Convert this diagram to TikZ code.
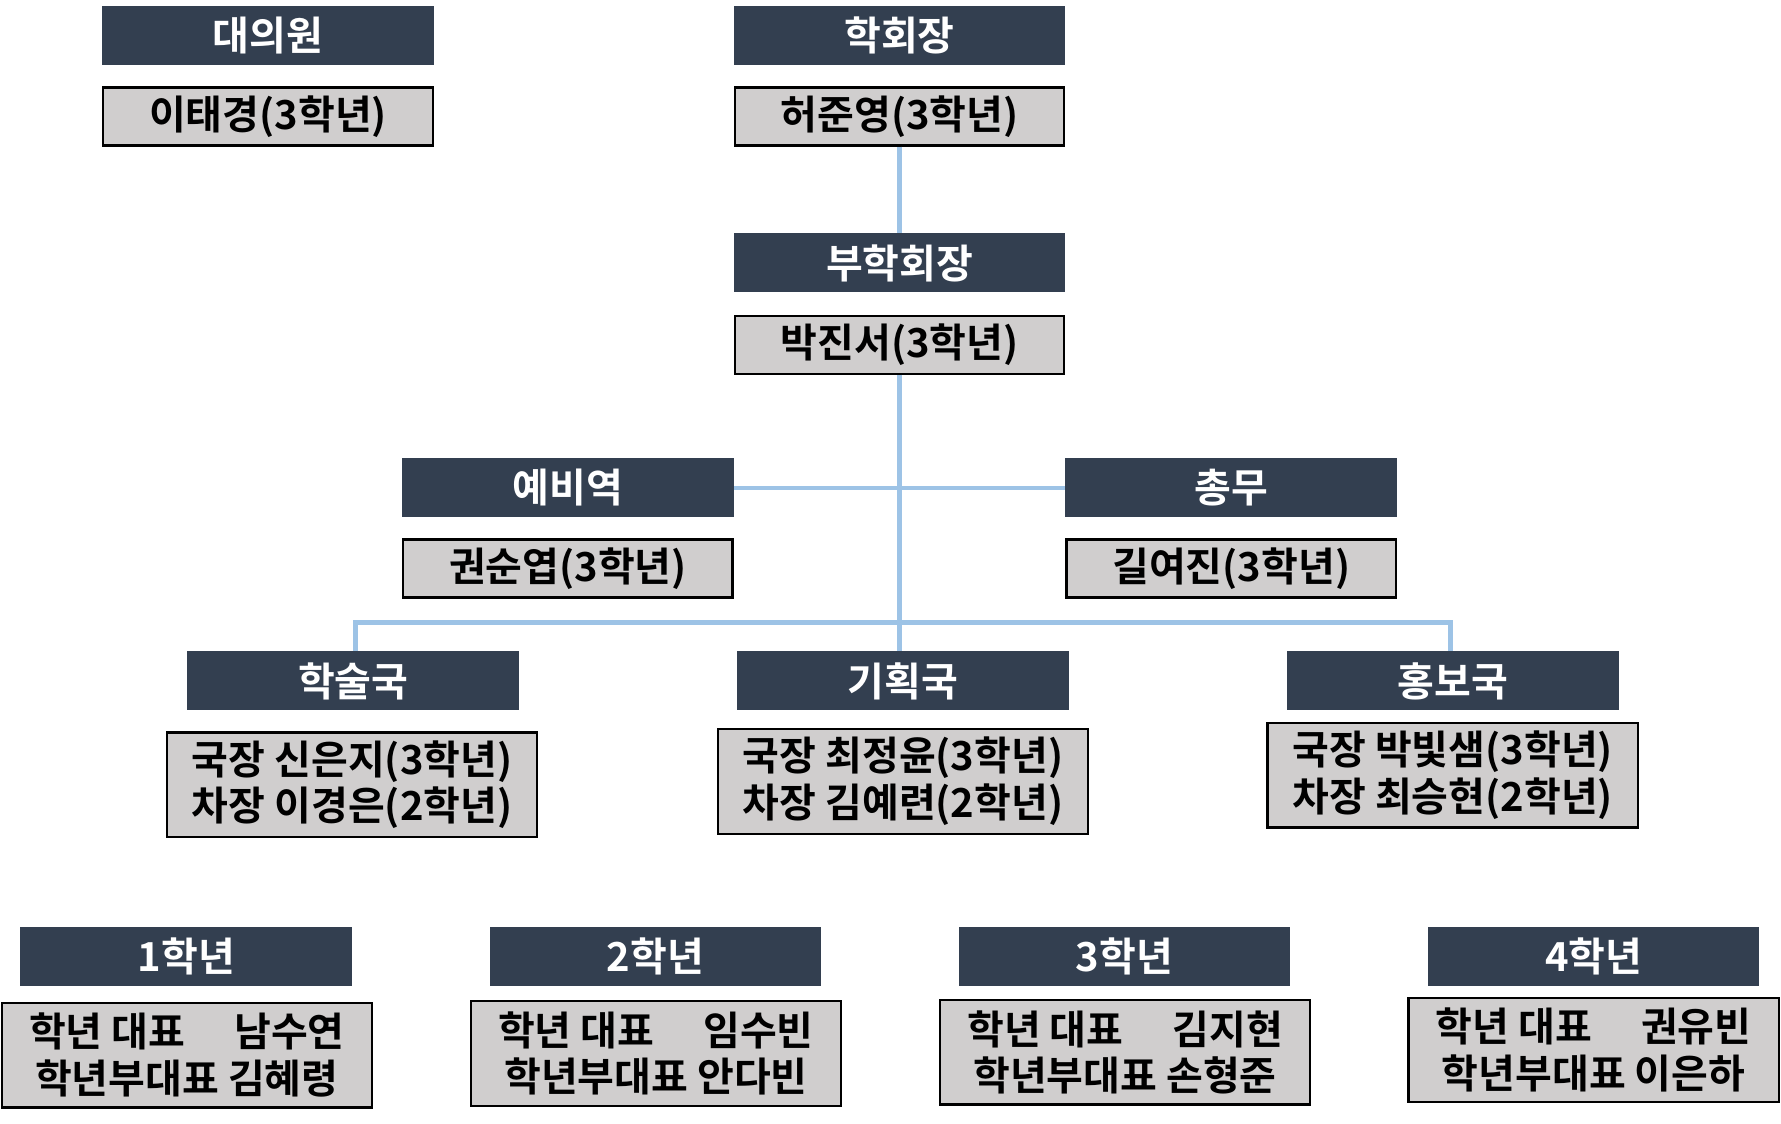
\documentclass[tikz,border=0pt]{standalone}
\usepackage{fontspec}
\setmainfont{Noto Sans CJK KR Bold}
\usepackage{xcolor}
\usepackage{tikz}
\definecolor{navy}{HTML}{333F50}
\definecolor{pgray}{HTML}{D0CECE}
\definecolor{lblue}{HTML}{9DC3E6}
\tikzstyle{head}=[fill=navy,text=white,minimum width=146pt,minimum height=26pt,inner sep=0pt,font=\fontsize{17.6}{20.5}\selectfont]
\tikzstyle{who}=[fill=pgray,draw=black,line width=1pt,minimum width=145pt,minimum height=25.5pt,inner sep=0pt,font=\fontsize{17.6}{20.5}\selectfont,align=center]
\tikzstyle{who2}=[who,minimum width=163pt,minimum height=46pt]
\tikzstyle{link}=[lblue,line width=2pt]

\begin{document}
\begin{tikzpicture}[x=0.5pt,y=-0.5pt]
	\useasboundingbox (0,0) rectangle (1568,989);
	\node[head] (Dh) at (236,31) {대의원};
	\node[who]  (Dp) at (236,102.5) {이태경(3학년)};
	\node[head] (Ph) at (792,31) {학회장};
	\node[who]  (Pp) at (792,102.5) {허준영(3학년)};
	\node[head] (Vh) at (792,231.5) {부학회장};
	\node[who]  (Vp) at (792,303.5) {박진서(3학년)};
	\node[head] (Rh) at (500,429.5) {예비역};
	\node[who]  (Rp) at (500,500.5) {권순엽(3학년)};
	\node[head] (Gh) at (1084,429.5) {총무};
	\node[who]  (Gp) at (1084,500.5) {길여진(3학년)};
	\node[head] (Ah) at (311,599.5) {학술국};
	\node[who2] (Ap) at (310,691) {국장 신은지(3학년)\\차장 이경은(2학년)};
	\node[head] (Bh) at (795,599.5) {기획국};
	\node[who2] (Bp) at (795,688) {국장 최정윤(3학년)\\차장 김예련(2학년)};
	\node[head] (Ch) at (1279,599.5) {홍보국};
	\node[who2] (Cp) at (1279,682.5) {국장 박빛샘(3학년)\\차장 최승현(2학년)};
	\node[head] (Y1) at (164,842) {1학년};
	\node[who2] (Y1p) at (164.5,929) {학년 대표\quad{} 남수연\\학년부대표 김혜령};
	\node[head] (Y2) at (577,842) {2학년};
	\node[who2] (Y2p) at (577.5,927.5) {학년 대표\quad{} 임수빈\\학년부대표 안다빈};
	\node[head] (Y3) at (990,842) {3학년};
	\node[who2] (Y3p) at (990.5,926.5) {학년 대표\quad{} 김지현\\학년부대표 손형준};
	\node[head] (Y4) at (1403,842) {4학년};
	\node[who2] (Y4p) at (1403,924.5) {학년 대표\quad{} 권유빈\\학년부대표 이은하};
	\coordinate (hub) at (792,548);
	\draw[link] (Pp.south) -- (Vh.north);
	\draw[link] (Vp.south) -- (hub);
	\draw[link] (Rh.east) -- (Gh.west);
	\draw[link] ([xshift=1pt]Ah.north) |- (hub) -| ([xshift=-1pt]Ch.north);
	\draw[link] (hub) -- (hub |- Bh.north);
\end{tikzpicture}
\end{document}
